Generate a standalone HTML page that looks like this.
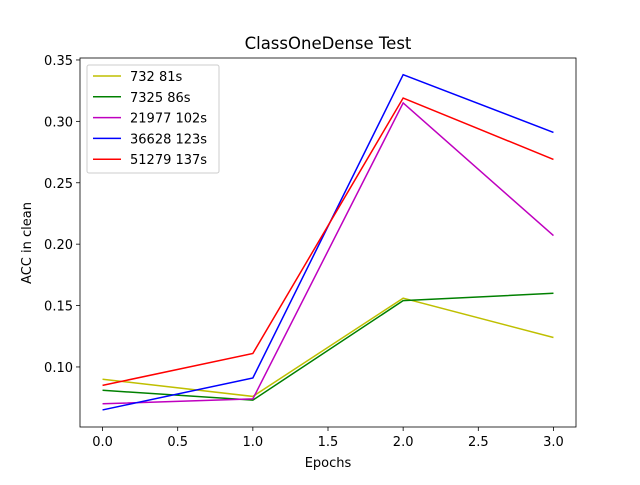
<!DOCTYPE html>
<html><head><meta charset="utf-8"><style>
body{margin:0;background:#fff}
svg{font-family:"DejaVu Sans","Liberation Sans",sans-serif}
</style></head><body>
<svg id="chart" width="640" height="480" xmlns="http://www.w3.org/2000/svg"></svg>
<script>
const epochs=[0,1,2,3];
const seriesNames=["732 81s","7325 86s","21977 102s","36628 123s","51279 137s"];
const seriesColors=["#bfbf00","#008000","#bf00bf","#0000ff","#ff0000"];
const s732=[0.090,0.076,0.156,0.124];
const s7325=[0.081,0.073,0.154,0.160];
const s21977=[0.070,0.074,0.315,0.207];
const s36628=[0.065,0.091,0.338,0.291];
const s51279=[0.085,0.111,0.319,0.269];
const seriesValues=[s732,s7325,s21977,s36628,s51279];
const xTicks=[0,0.5,1,1.5,2,2.5,3];
const xTickLabels=["0.0","0.5","1.0","1.5","2.0","2.5","3.0"];
const yTicks=[0.10,0.15,0.20,0.25,0.30,0.35];
const yTickLabels=["0.10","0.15","0.20","0.25","0.30","0.35"];

const L=80,R=576,T=58,B=427;
const xmin=-0.15,xmax=3.15,ymin=0.0511,ymax=0.3516;
const X=v=>L+(v-xmin)/(xmax-xmin)*(R-L);
const Y=v=>B-(v-ymin)/(ymax-ymin)*(B-T);
const svg=document.getElementById('chart');
const NS="http://www.w3.org/2000/svg";
function mk(tag,attrs,text){const e=document.createElementNS(NS,tag);for(const k in attrs)e.setAttribute(k,attrs[k]);if(text!==undefined)e.textContent=text;svg.appendChild(e);return e;}

let t=mk('text',{x:328,y:49,'text-anchor':'middle','font-size':16.5},'ClassOneDense Test');



xTicks.forEach((v,i)=>{
  const l=mk('line',{x1:X(v),x2:X(v),y1:B,y2:B+4,stroke:'#000','stroke-width':0.8});
  
  
  const tx=mk('text',{x:X(v),y:B+19,'text-anchor':'middle','font-size':13},xTickLabels[i]);
  
  
});
yTicks.forEach((v,i)=>{
  const l=mk('line',{x1:L-4,x2:L,y1:Y(v),y2:Y(v),stroke:'#000','stroke-width':0.8});
  
  
  const tx=mk('text',{x:L-7,y:Y(v)+5,'text-anchor':'end','font-size':13},yTickLabels[i]);
  
  
});
let xl=mk('text',{x:328,y:467,'text-anchor':'middle','font-size':13},'Epochs');


let yl=mk('text',{x:31,y:243,'text-anchor':'middle','font-size':13,transform:'rotate(-90 31 243)'},'ACC in clean');



seriesValues.forEach((vals,si)=>{
  const p=mk('polyline',{points:vals.map((v,i)=>X(epochs[i])+','+Y(v)).join(' '),fill:'none',stroke:seriesColors[si],'stroke-width':1.5});
  
  
});

let fr=mk('rect',{x:L,y:T,width:R-L,height:B-T,fill:'none',stroke:'#000','stroke-width':0.8});



let lg=mk('rect',{x:87,y:65,width:132,height:108,fill:'#fff','fill-opacity':0.8,stroke:'#ccc',rx:2});


seriesNames.forEach((n,i)=>{
  const y=76+i*20.8;
  const l=mk('line',{x1:93,x2:121,y1:y,y2:y,stroke:seriesColors[i],'stroke-width':1.5});
  
  
  const tx=mk('text',{x:130,y:y+5,'font-size':13},n);
  
  
});
</script>
</body></html>
